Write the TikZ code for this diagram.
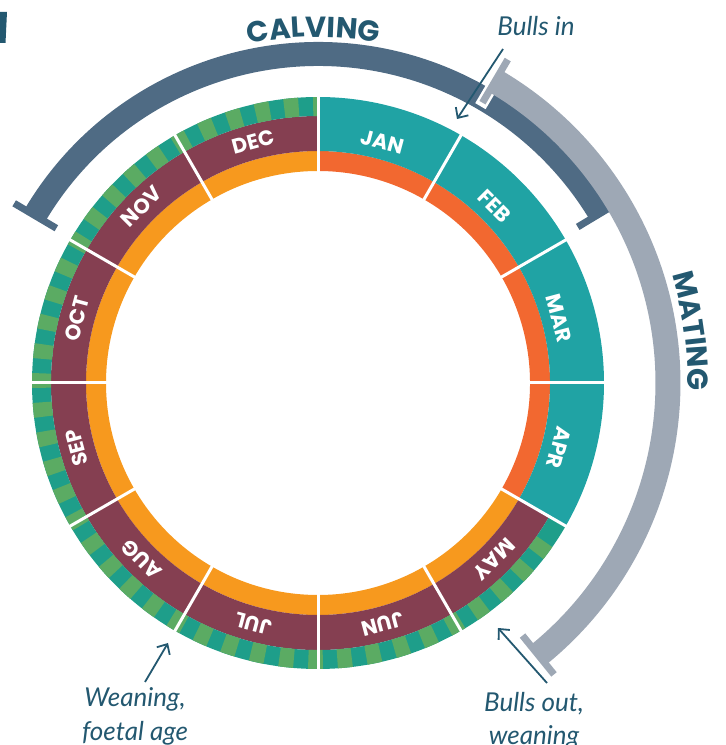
\documentclass[tikz,border=0pt]{standalone}
\usepackage{fontspec}
\setmainfont{Lato}
\newfontfamily\capfont{Poppins}
\usetikzlibrary{arrows.meta,decorations.text}
\definecolor{txt}{HTML}{235870}
\definecolor{bandteal}{HTML}{20A3A4}
\definecolor{stteal}{HTML}{1E9E8A}
\definecolor{stgreen}{HTML}{5BAB63}
\definecolor{maroon}{HTML}{853F51}
\definecolor{orng}{HTML}{F7991E}
\definecolor{redorng}{HTML}{F26830}
\definecolor{calvc}{HTML}{4F6B84}
\definecolor{matc}{HTML}{9EA8B5}
\newcommand\ringsector[5]{\fill[#5] (#1:#3) arc[start angle=#1, end angle=#2, radius=#3] -- (#2:#4) arc[start angle=#2, end angle=#1, radius=#4] -- cycle;}
\tikzset{
  mlabel/.style={text=white, font=\capfont\bfseries\fontsize{21}{21}\selectfont, inner sep=0pt},
  annot/.style={text=txt, font=\itshape\fontsize{26}{26}\selectfont, inner sep=0pt, anchor=base},
  callout/.style={draw=txt, line width=1.8pt, -{Straight Barb[length=8pt,width=15pt]}},
  calvarc/.style={draw=calvc},
  matarc/.style={draw=matc}
}
\begin{document}
\begin{tikzpicture}[x=1pt,y=1pt]
\useasboundingbox (0,0) rectangle (726,745);
\begin{scope}[shift={(318,362)}]
  % inner orange ring
  \ringsector{90}{-30}{232}{212}{redorng}
  \ringsector{-30}{-270}{232}{212}{orng}
  % month bands
  \ringsector{90}{-30}{286}{232}{bandteal}
  \ringsector{-30}{-270}{267}{232}{maroon}
  % stripes
  \ringsector{90}{330}{286}{267}{stteal}
  \ringsector{90}{91}{286}{267}{stgreen}
  \foreach \i in {0,...,38} {
    \ringsector{94+6*\i}{97+6*\i}{286}{267}{stgreen}
  }
  % dividers
  \foreach \k in {0,...,11} {
    \draw[white, line width=3pt] (90-30*\k:210) -- (90-30*\k:288);
  }
  % month labels
  \foreach \n [count=\k from 0] in {JAN,FEB,MAR,APR,MAY,JUN,JUL,AUG,SEP,OCT,NOV,DEC} {
    \node[mlabel, rotate=75-30*\k-90] (m\k) at (75-30*\k:249.5) {\n};
  }
  % calving arc
  \draw[calvarc, line width=24pt] (149.4:329) arc[start angle=149.4, end angle=31, radius=329];
  \draw[calvarc, line width=7pt] (149.4:304) -- (149.4:353);
  \draw[calvarc, line width=7pt] (31:303) -- (31:356);
  % mating arc
  \draw[white, line width=12pt] (59.6:321) -- (59.6:377);
  \draw[matarc, line width=25pt] (59.6:350) arc[start angle=59.6, end angle=-51, radius=350];
  \draw[matarc, line width=7pt] (59.6:325) -- (59.6:375);
  \draw[matarc, line width=7pt] (-51:325) -- (-51:375);
  % curved titles
  \path[decorate, decoration={text along path, text align=center,
    text={|\capfont\bfseries\fontsize{29}{29}\selectfont\color{txt}|CALVING}}]
    (111:346) arc[start angle=111, end angle=70.5, radius=346];
  \path[decorate, decoration={text along path, text align=center,
    text={|\capfont\bfseries\fontsize{29}{29}\selectfont\color{txt}|MATING}}]
    (30:370) arc[start angle=30, end angle=-14.2, radius=370];
\end{scope}
% cropped fragment top-left
\fill[txt] (0,733) -- (7,733) -- (5.5,702) -- (0,702) -- cycle;
% annotations
\node[annot] (tin) at (536,709) {Bulls in};
\node[annot] (twean1) at (135,38) {Weaning,};
\node[annot] (twean2) at (135,5) {foetal age};
\node[annot] (tout1) at (534,33) {Bulls out,};
\node[annot] (tout2) at (534,1) {weaning};
\coordinate (a1s) at (503,696);
\coordinate (a1e) at (457,626);
\coordinate (a2s) at (145,63);
\coordinate (a2e) at (168,102);
\coordinate (a3s) at (547,62);
\coordinate (a3e) at (498,117);
\draw[callout] (a1s) -- (a1e);
\draw[callout] (a2s) -- (a2e);
\draw[callout] (a3s) -- (a3e);
\end{tikzpicture}
\end{document}
